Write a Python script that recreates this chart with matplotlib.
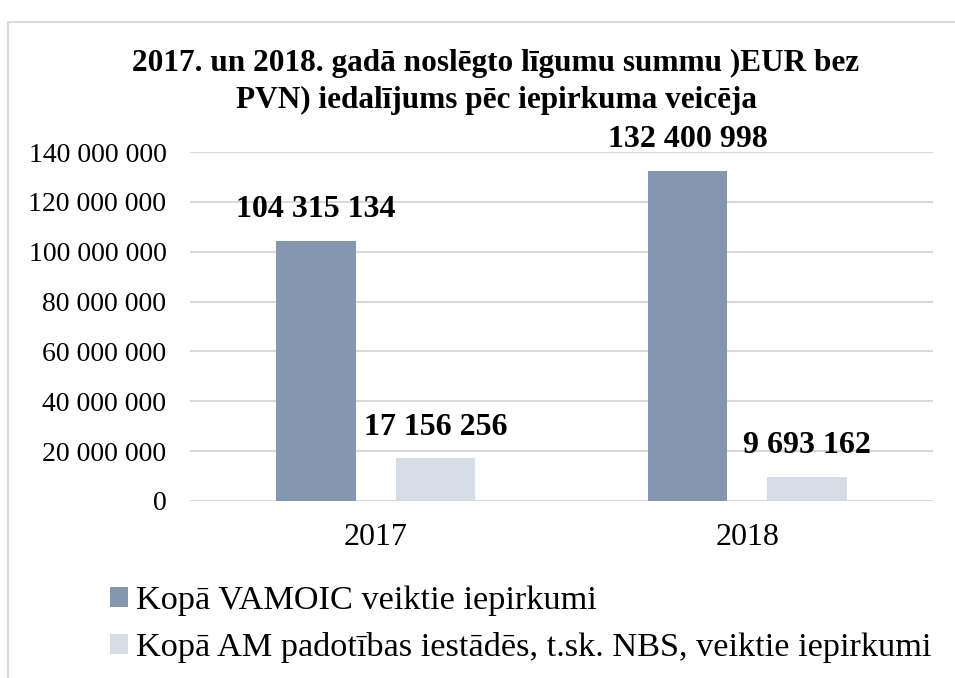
import matplotlib.pyplot as plt
from matplotlib.patches import Rectangle

# data
years = ["2017", "2018"]
vamoic = [104315134, 132400998]
am_iestades = [17156256, 9693162]
series_names = ["Kopā VAMOIC veiktie iepirkumi",
                "Kopā AM padotības iestādēs, t.sk. NBS, veiktie iepirkumi"]
y_ticks = [0, 20000000, 40000000, 60000000, 80000000, 100000000, 120000000, 140000000]

plt.rcParams['font.family'] = ['Liberation Serif', 'DejaVu Serif']

W, H = 955, 678
fig = plt.figure(figsize=(W / 100, H / 100), dpi=100)

# light frame around the chart area
fig.patches.append(Rectangle((8 / W, -0.1), 1.1, (H - 22) / H + 0.1, transform=fig.transFigure,
                             fill=False, edgecolor='#d9d9d9', linewidth=1.5))

ax = fig.add_axes([190 / W, (H - 501) / H, 743 / W, 349 / H])

x = range(len(years))
off = 0.161
bw = 0.215
b1 = ax.bar([i - off for i in x], vamoic, width=bw, color='#8497b0', label=series_names[0], zorder=3)
b2 = ax.bar([i + off for i in x], am_iestades, width=bw, color='#d6dce5', label=series_names[1], zorder=3)


def fmt(v):
    return f"{int(v):,}".replace(",", " ")


for bars in (b1, b2):
    for r in bars:
        ax.annotate(fmt(r.get_height()), (r.get_x() + r.get_width() / 2, r.get_height()),
                    xytext=(0, 12), textcoords='offset points', ha='center', va='bottom',
                    fontsize=23, fontweight='bold', annotation_clip=False)

ax.set_xlim(-0.5, 1.5)
ax.set_ylim(0, 140000000)
ax.set_yticks(y_ticks)
ax.set_yticklabels([fmt(v) for v in y_ticks])
ax.set_xticks(list(x))
ax.set_xticklabels(years)
ax.tick_params(axis='y', length=0, pad=17, labelsize=20)
ax.tick_params(axis='x', length=0, pad=16, labelsize=23)
ax.grid(axis='y', color='#d9d9d9', linewidth=1.5, zorder=0)
for s in ax.spines.values():
    s.set_visible(False)

fig.text(496 / W, 1 - 82 / H, "2017. un 2018. gadā noslēgto līgumu summu )EUR bez\nPVN) iedalījums pēc iepirkuma veicēja",
         ha='center', va='center', fontsize=22.5, fontweight='bold', linespacing=1.32)

fig.legend(handles=[b1, b2], loc='upper left', bbox_to_anchor=(110 / W, 1 - 586 / H),
           frameon=False, fontsize=24.7, handlelength=0.52, handleheight=0.52,
           handletextpad=0.25, labelspacing=0.45, borderaxespad=0, borderpad=0)

fig.savefig("out.png", dpi=100)
